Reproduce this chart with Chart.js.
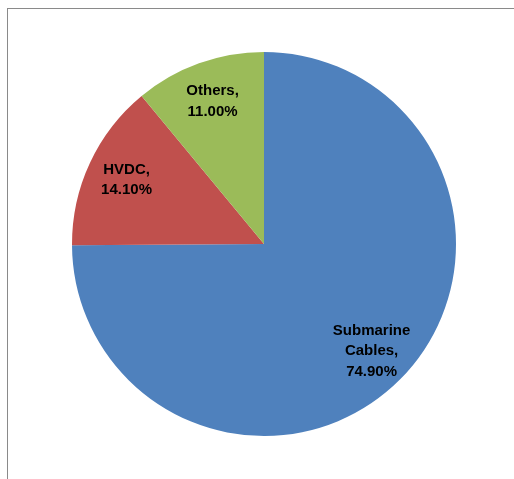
<!DOCTYPE html>
<html>
<head>
<meta charset="utf-8">
<script src="https://cdn.jsdelivr.net/npm/chart.js@4/dist/chart.umd.min.js"></script>
<style>
  html, body { margin: 0; padding: 0; background: #fff; }
  #wrap { position: relative; width: 514px; height: 479px; overflow: hidden; }
  #frame { position: absolute; left: 7px; top: 8px; width: 520px; height: 500px;
           border-top: 1px solid #8a8a8a; border-left: 1px solid #8a8a8a; }
  #pie { position: absolute; left: 0; top: 0; }
</style>
</head>
<body>
<div id="wrap">
  <div id="frame"></div>
  <canvas id="pie" width="514" height="479"></canvas>
</div>
<script>
// market share by segment (percent)
const categories = ['Submarine Cables', 'HVDC', 'Others'];
const shares = [74.9, 14.1, 11.0];
const colors = ['#4F81BD', '#C0504D', '#9BBB59'];

// writes "name, value%" inside each slice, one word per line
const sliceLabels = {
  id: 'sliceLabels',
  afterDatasetsDraw(chart) {
    const ctx = chart.ctx;
    const meta = chart.getDatasetMeta(0);
    ctx.save();
    ctx.font = 'bold 15px "Liberation Sans", Arial, sans-serif';
    ctx.fillStyle = '#000';
    ctx.textAlign = 'center';
    ctx.textBaseline = 'middle';
    meta.data.forEach((arc, i) => {
      const p = arc.getProps(['x', 'y', 'startAngle', 'endAngle', 'outerRadius']);
      const mid = (p.startAngle + p.endAngle) / 2;
      const r = p.outerRadius * 0.79;
      const cx = p.x + Math.cos(mid) * r;
      const cy = p.y + Math.sin(mid) * r;
      const words = categories[i].split(' ');
      words[words.length - 1] += ',';
      const lines = words.concat([shares[i].toFixed(2) + '%']);
      const lh = 20.5;
      lines.forEach((t, k) => {
        ctx.fillText(t, cx, cy + (k - (lines.length - 1) / 2) * lh);
      });
    });
    ctx.restore();
  }
};

new Chart(document.getElementById('pie'), {
  type: 'pie',
  data: {
    labels: categories,
    datasets: [{
      data: shares,
      backgroundColor: colors,
      borderWidth: 0
    }]
  },
  options: {
    responsive: false,
    animation: false,
    layout: { padding: { left: 72, right: 58, top: 52, bottom: 43 } },
    plugins: {
      legend: { display: false },
      tooltip: { enabled: false }
    }
  },
  plugins: [sliceLabels]
});
</script>
</body>
</html>
